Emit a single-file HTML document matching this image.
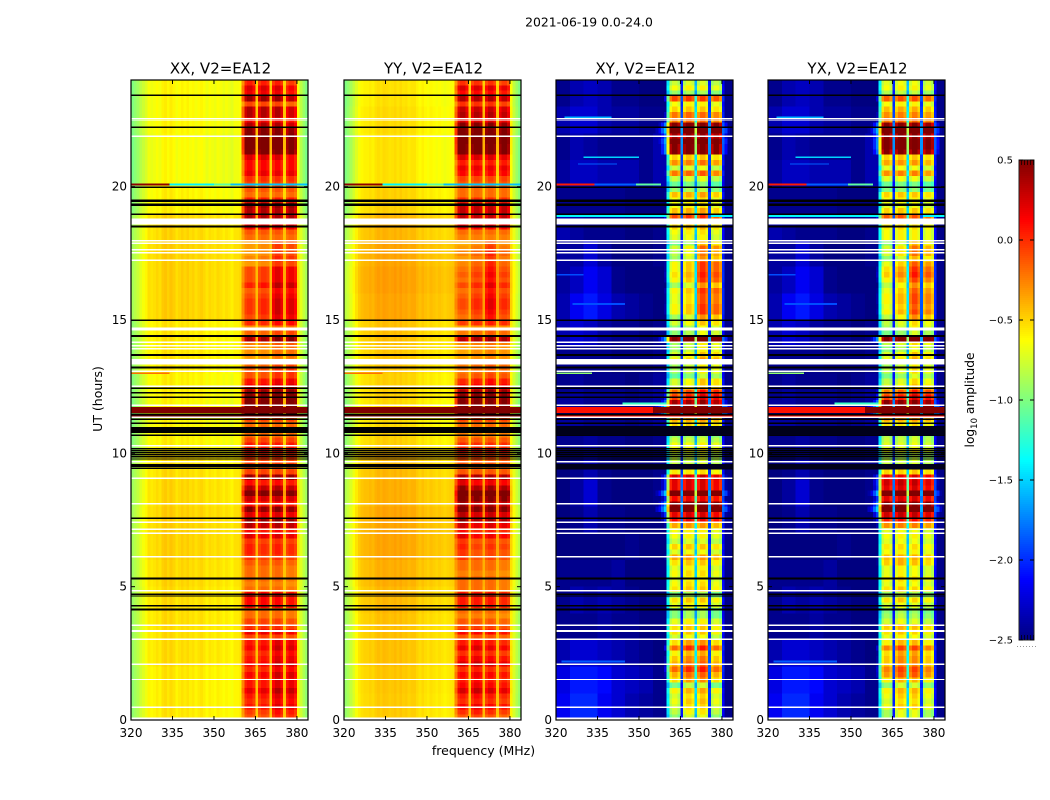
<!DOCTYPE html>
<html lang="en">
<head>
<meta charset="utf-8">
<title>2021-06-19 0.0-24.0</title>
<style>
html,body{margin:0;padding:0;background:#fff;width:1050px;height:800px;overflow:hidden}
svg{display:block}
text{font-family:"DejaVu Sans","Liberation Sans",sans-serif;fill:#000}
</style>
</head>
<body>
<svg id="chart" xmlns="http://www.w3.org/2000/svg" width="1050" height="800" viewBox="0 0 1050 800">
  <text x="589" y="26.5" font-size="12.4" text-anchor="middle">2021-06-19 0.0-24.0</text>
  <text transform="translate(102,399) rotate(-90)" font-size="12.5" text-anchor="middle">UT (hours)</text>
  <text x="483.5" y="755" font-size="12.5" text-anchor="middle">frequency (MHz)</text>
  <text transform="translate(974,400) rotate(-90)" font-size="12.2" text-anchor="middle">log<tspan font-size="8.5" dy="3">10</tspan><tspan dy="-3"> amplitude</tspan></text>
</svg>
<script>
/* ---------- tick labels ---------- */
const freqTicks = [320, 335, 350, 365, 380];
const hourTicks = [0, 5, 10, 15, 20];
const colorTicks = [0.5, 0, -0.5, -1, -1.5, -2, -2.5];

/* ---------- log10 amplitude of the RFI-band per 0.2 h time bin, top (24 h) to bottom (0 h) ---------- */
const bandXX = [
-.05,.1,.05,.25,-.15,.2,.2,.05,.2,.35,
.4,.45,.45,.4,.1,.05,.05,.1,-.05,-.1,
-.15,-.2,0,.3,.25,.25,-.1,.1,-.15,-.2,
-.2,-.2,-.2,-.15,-.2,0,0,0,.1,-.05,
0,.05,.05,.05,0,0,-.25,-.15,.3,-.2,
-.25,-.25,-.3,-.15,-.1,-.1,.05,.1,.35,.45,
.45,.5,.5,-.1,-.2,-.15,-.2,-.1,0,.1,
-.05,-.1,-.15,-.1,.3,0,.2,.4,.15,0,
.3,.1,.3,.2,0,.1,-.1,-.05,-.05,-.1,
-.15,-.2,-.2,-.2,-.25,-.2,.05,.05,.05,-.2,
-.2,-.1,-.05,.1,-.1,.05,.1,0,.05,.1,
0,.1,.05,.05,.15,.05,0,.05,-.05,-.1];
const bandYY = [
-.1,.1,0,.2,-.1,.15,.2,.1,.3,.4,
.45,.45,.4,.4,.1,0,.1,.05,-.1,-.15,
-.2,-.2,-.05,.2,.2,.2,-.1,.05,-.2,-.25,
-.25,-.2,-.15,-.2,-.15,-.1,-.05,-.1,0,-.1,
-.05,0,0,-.05,-.1,-.05,-.3,-.2,.25,-.25,
-.3,-.3,-.3,-.2,-.2,-.15,0,.05,.3,.4,
.4,.5,.5,-.1,-.2,-.2,-.25,-.15,-.05,.05,
-.1,-.15,-.2,-.15,.25,.05,.25,.45,.35,.2,
.35,.15,.25,.1,-.05,.05,-.15,-.1,-.15,-.15,
-.2,-.2,-.25,-.2,-.2,-.2,0,0,0,-.2,
-.25,-.15,-.1,.05,-.15,0,.1,-.05,.05,.15,
-.05,.05,0,.05,.15,0,-.05,.05,-.05,-.15];
const bandXY = [
-.8,-.7,-.9,-.3,-.7,-.6,-.4,-.4,.15,.35,
.05,.25,.15,.15,-.6,-.45,-.8,-.4,-.8,-1,
-.9,-.55,-.7,-.7,-.55,-.3,-.5,-.6,-.7,-.75,
-.8,-.6,-.65,-.7,-.5,-.5,-.45,-.5,-.7,-.5,
-.55,-.55,-.5,-.5,-.7,-.7,-.85,-.85,.25,-.8,
-.8,-.7,-.6,-.8,-.8,-.95,-.7,-.7,-.3,-.2,
.05,.5,.5,-.5,-.6,-.9,-.9,-.8,-.7,-.7,
-.8,-.8,-.8,-.65,-.05,-.1,-.1,.35,-.15,.2,
.4,-.1,-.15,-.5,-.7,-.7,-.8,-.6,-.75,-.5,
-.6,-.7,-.65,-.7,-.65,-.6,-.9,-.6,-.7,-.9,
-.9,-.7,-.6,-.6,-.75,-.55,-.3,-.6,-.5,-.45,
-.3,-.45,-.55,-.9,-.6,-.7,-.65,-.7,-.75,-.85];
const bandYX = [
-.75,-.7,-.85,-.35,-.7,-.55,-.45,-.4,.1,.3,
.1,.2,.2,.1,-.6,-.5,-.75,-.45,-.75,-1,
-.95,-.6,-.7,-.75,-.6,-.35,-.5,-.65,-.7,-.7,
-.75,-.6,-.6,-.75,-.55,-.45,-.4,-.5,-.65,-.55,
-.5,-.5,-.55,-.5,-.65,-.75,-.8,-.9,.2,-.75,
-.85,-.7,-.65,-.8,-.75,-.9,-.75,-.7,-.35,-.2,
.1,.5,.5,-.5,-.65,-.9,-.85,-.8,-.75,-.7,
-.85,-.8,-.75,-.6,-.1,-.05,-.1,.3,-.1,.15,
.4,-.05,-.2,-.45,-.75,-.7,-.75,-.65,-.7,-.55,
-.55,-.7,-.7,-.65,-.7,-.6,-.85,-.6,-.75,-.9,
-.85,-.75,-.55,-.6,-.7,-.6,-.35,-.55,-.5,-.5,
-.35,-.4,-.6,-.85,-.6,-.65,-.7,-.65,-.8,-.8];

/* ---------- per sub-band offsets, one row per 3 h from 21-24 h down to 0-3 h ---------- */
const subXX = [[.15,.15,.15,.05],[.1,.1,.1,.1],[-.05,0,.25,.2],[.05,.05,.15,.15],[.1,.1,.1,.1],[.15,.1,.15,.1],[.1,.1,.1,.05],[.05,.05,.2,.15]];
const subYY = [[.15,.15,.15,.1],[.1,.1,.1,.1],[-.05,.05,.25,.05],[.05,.1,.15,.1],[.1,.1,.1,.1],[.2,.1,.15,.1],[.1,.1,.1,.05],[.1,.15,.1,.05]];
const subXY = [[.15,.2,.2,.1],[.15,.2,.25,.1],[-.1,.05,.5,.35],[.05,.15,.35,.25],[.15,.15,.2,.1],[.15,.2,.2,.1],[.1,.2,.2,.05],[.05,.25,.3,.05]];
const subYX = [[.15,.2,.2,.1],[.15,.2,.2,.1],[-.1,.1,.45,.25],[.05,.15,.35,.2],[.15,.15,.2,.1],[.15,.2,.2,.1],[.1,.2,.15,.05],[.05,.25,.25,.05]];

/* ---------- co-polar background, per MHz channel (64) and per hour offset (23 h to 0 h) ---------- */
const bgColXX = [-.9,-.85,-.8,-.72,-.67,-.62,-.55,-.57,-.55,-.52,-.55,-.49,-.47,-.51,-.47,-.5,-.55,-.52,-.49,-.52,-.49,-.53,-.51,-.55,-.52,-.5,-.53,-.57,-.53,-.55,-.57,-.53,-.55,-.58,-.55,-.57,-.6,-.55,-.55,-.53,-.5,-.5,-.5,-.5,-.5,-.5,-.5,-.5,-.5,-.5,-.48,-.5,-.5,-.5,-.5,-.5,-.5,-.5,-.5,-.55,-.62,-.72,-.82,-.9];
const bgColYY = [-.9,-.85,-.78,-.7,-.62,-.55,-.51,-.49,-.49,-.47,-.49,-.45,-.43,-.45,-.42,-.43,-.45,-.44,-.42,-.45,-.42,-.45,-.44,-.47,-.45,-.45,-.49,-.52,-.49,-.52,-.54,-.51,-.53,-.55,-.53,-.55,-.57,-.55,-.54,-.53,-.5,-.5,-.5,-.5,-.5,-.5,-.5,-.5,-.5,-.5,-.48,-.5,-.5,-.5,-.5,-.5,-.5,-.5,-.5,-.55,-.62,-.72,-.82,-.9];
const hourOffsetXX = [-.1,-.1,-.12,-.12,-.08,0,.02,.02,.02,-.05,-.05,-.08,-.1,-.08,-.02,0,.02,.02,0,-.02,-.02,-.02,-.05,-.05];
const hourOffsetYY = [-.1,-.08,-.1,-.1,-.05,.03,.08,.1,.08,0,-.02,-.05,-.08,-.05,.02,.05,.08,.08,.05,.02,0,0,-.02,-.03];
const bandMixCo = [0,0,0,0,0,0,0,0,0,0,0,0,0,0,0,0,0,0,0,0,0,0,0,0,0,0,0,0,0,0,0,0,0,0,0,0,0,0,0,0,.45,.9,1,1,.85,.15,.85,1,1,.9,.15,.85,1,1,.85,.15,.85,1,1,.85,.1,0,0,0];

/* ---------- cross-polar background: 1 h rows (23 to 0) by 5 MHz columns (320-360) ---------- */
const crossBg = [
[-2.4,-2.3,-2.25,-2.3,-2.4,-2.4,-2.45,-2.45],
[-2.3,-2.2,-2.2,-2.3,-2.35,-2.35,-2.4,-2.4],
[-2.4,-2.3,-2.35,-2.4,-2.4,-2.4,-2.4,-2.3],
[-2.35,-2.25,-2.25,-2.3,-2.3,-2.3,-2.4,-2.3],
[-2.4,-2.4,-2.4,-2.4,-2.4,-2.45,-2.45,-2.45],
[-2.3,-2.35,-2.4,-2.4,-2.4,-2.45,-2.45,-2.4],
[-2.35,-2.35,-2.2,-2.35,-2.45,-2.45,-2.45,-2.4],
[-2.35,-2.25,-2.1,-2.2,-2.4,-2.45,-2.45,-2.45],
[-2.3,-2.1,-2,-2.15,-2.3,-2.35,-2.4,-2.45],
[-2.3,-2.2,-2.25,-2.35,-2.4,-2.4,-2.45,-2.4],
[-2.4,-2.4,-2.4,-2.4,-2.45,-2.45,-2.45,-2.4],
[-2.4,-2.35,-2.4,-2.4,-2.4,-2.45,-2.4,-2.35],
[-2.35,-2.35,-2.4,-2.4,-2.4,-2.45,-2.4,-2.35],
[-2.4,-2.4,-2.35,-2.4,-2.4,-2.45,-2.45,-2.4],
[-2.45,-2.4,-2.3,-2.4,-2.45,-2.45,-2.45,-2.4],
[-2.45,-2.35,-2.2,-2.4,-2.45,-2.45,-2.45,-2.4],
[-2.45,-2.4,-2.3,-2.4,-2.4,-2.45,-2.45,-2.45],
[-2.45,-2.45,-2.45,-2.45,-2.45,-2.4,-2.45,-2.45],
[-2.4,-2.4,-2.4,-2.4,-2.35,-2.45,-2.45,-2.45],
[-2.4,-2.3,-2.35,-2.3,-2.35,-2.4,-2.45,-2.45],
[-2.4,-2.4,-2.4,-2.35,-2.4,-2.4,-2.45,-2.45],
[-2.3,-2.2,-2.2,-2.25,-2.3,-2.35,-2.4,-2.45],
[-2.15,-2,-2,-2.05,-2.2,-2.25,-2.3,-2.4],
[-2.1,-1.95,-1.95,-2.1,-2.2,-2.3,-2.35,-2.4]];
const bandMixCross = [0,0,0,0,0,0,0,0,0,0,0,0,0,0,0,0,0,0,0,0,0,0,0,0,0,0,0,0,0,0,0,0,0,0,0,0,0,0,0,0,.6,.93,1,1,.93,.25,.93,1,1,.95,.5,.93,1,1,.93,.25,.93,1,1,.93,.2,0,0,0];
const glowCross = [-9,-9,-9,-9,-9,-9,-9,-9,-9,-9,-9,-9,-9,-9,-9,-9,-9,-9,-9,-9,-9,-9,-9,-9,-9,-9,-9,-9,-9,-9,-9,-9,-9,-9,-3.1,-2.9,-2.7,-2.5,-2.2,-1.9,-9,-9,-9,-9,-9,-9,-9,-9,-9,-9,-9,-9,-9,-9,-9,-9,-9,-9,-9,-9,-9,-2.3,-2.7,-3];

/* ---------- narrow features: [hour, firstMHz, lastMHz, log10 amplitude, duration h] ---------- */
const streaksCo = [[20.08,320,334,.45,.07],[20.08,334,350,-1.4,.07],[20.08,350,356,-1.1,.07],[20.08,356,384,-1.55,.07],[13,320,334,-.2,.05],[11.62,320,384,.5,.22],[11.42,320,384,.5,.12]];
const streaksCross = [[20.08,320,334,.05,.07],[20.08,334,349,-1.85,.07],[20.08,349,358,-1.1,.07],[13,320,333,-.95,.05],[11.62,320,355,.08,.22],[11.62,355,384,.5,.22],[11.4,320,384,.1,.1],[11.85,344,360,-1.2,.1],[22.6,323,340,-1.6,.05],[21.1,330,350,-1.5,.05],[20.85,328,342,-1.85,.05],[18.93,320,360,-1.4,.14],[18.93,376,384,-1.4,.14],[16.7,320,330,-1.9,.05],[2.2,322,345,-1.85,.07],[15.6,326,345,-1.9,.07]];

/* ---------- flagged integrations: [hour, duration h] ---------- */
const flagsBlack = [[23.43,.05],[22.23,.05],[19.98,.05],[19.47,.08],[19.32,.08],[18.96,.05],[18.5,.08],[14.99,.05],[14.4,.08],[13.69,.08],[13.22,.08],[12.44,.05],[12.27,.05],[12.1,.05],[11.46,.07],[11.28,.05],[11.13,.05],[10.87,.23],[10.68,.05],[10.17,.05],[10.1,.05],[10.02,.05],[9.95,.05],[9.87,.05],[9.79,.05],[9.57,.05],[9.51,.05],[9.44,.05],[7.56,.05],[5.3,.08],[4.71,.05],[4.65,.05],[4.29,.05],[4.15,.07]];
const flagsWhite = [[22.55,.04],[22.5,.04],[21.89,.05],[18.73,.17],[18.61,.05],[17.97,.05],[17.88,.05],[17.63,.05],[17.52,.05],[17.24,.05],[14.69,.05],[14.63,.05],[14.16,.05],[14.04,.05],[13.92,.05],[13.45,.17],[13.35,.05],[13.08,.05],[12.51,.05],[11.8,.05],[11.35,.05],[10.29,.05],[9.68,.05],[9.06,.05],[8.11,.05],[7.41,.05],[7.15,.05],[7,.05],[6.12,.07],[4.85,.05],[3.55,.05],[3.34,.08],[3.03,.05],[2.09,.05],[1.52,.05],[.48,.05],[.06,.07]];
const flagsBlackCross = [[10.85,.35],[9.5,.2]];

/* ---------- panels ---------- */
const panelTitles = ['XX, V2=EA12', 'YY, V2=EA12', 'XY, V2=EA12', 'YX, V2=EA12'];
const panelLeft = [131, 344, 556, 768];
const panelBands = [bandXX, bandYY, bandXY, bandYX];
const panelSubs = [subXX, subYY, subXY, subYX];
const panelBgCols = [bgColXX, bgColYY, null, null];
const panelHourOffsets = [hourOffsetXX, hourOffsetYY, null, null];

const plotTop = 80, plotBottom = 720, plotWidth = 177;
const freqMin = 320, freqMax = 384, hourMax = 24;
const colorMin = -2.5, colorMax = 0.5, barLeft = 1019, barRight = 1034, barTop = 160, barBottom = 640;
const NS = 'http://www.w3.org/2000/svg';
const svg = document.getElementById('chart');

function xScale(left, mhz) { return left + (mhz - freqMin) * plotWidth / (freqMax - freqMin); }
function yScale(hour) { return plotBottom - hour * (plotBottom - plotTop) / hourMax; }
function colorY(v) { return barBottom - (v - colorMin) * (barBottom - barTop) / (colorMax - colorMin); }
function jet(v) {
  const f = Math.max(0, Math.min(1, (v - colorMin) / (colorMax - colorMin)));
  const ch = (a) => Math.round(255 * Math.max(0, Math.min(1, 1.5 - Math.abs(4 * f - a))));
  return 'rgb(' + ch(3) + ',' + ch(2) + ',' + ch(1) + ')';
}
function make(tag, parent) {
  const el = document.createElementNS(NS, tag);
  parent.appendChild(el);
  return el;
}
function rectAttrs(el, x, y, w, h, fill) {
  el.setAttribute('x', x);
  el.setAttribute('y', y);
  el.setAttribute('width', w);
  el.setAttribute('height', h);
  el.setAttribute('fill', fill);
  el.setAttribute('shape-rendering', 'crispEdges');
}
function cellValue(p, ch, row) {
  const level = panelBands[p][row];
  const hourBin = Math.min(23, Math.floor(row * 0.2));
  const subRow = panelSubs[p][Math.min(7, Math.floor(row * 0.2 / 3))];
  const sb = Math.max(0, Math.min(3, Math.floor((ch - 40.5) / 5)));
  if (p < 2) {
    const bandLevel = level * 1.25 + subRow[sb] - 0.03;
    const bg = panelBgCols[p][ch] + panelHourOffsets[p][hourBin];
    return bg + bandMixCo[ch] * (bandLevel - bg);
  }
  const bandLevel = level * 1.4 + subRow[sb] + 0.2;
  let bg = ch < 40 ? crossBg[hourBin][Math.floor(ch / 5)] - 0.06 : -2.47;
  bg = Math.max(bg, level + glowCross[ch]);
  return bg + bandMixCross[ch] * (bandLevel - bg);
}

panelLeft.forEach(function (left, p) {
  const group = make('g', svg);
  
  

  /* heatmap cells */
  const rows = panelBands[p].length;
  const cells = make('g', group);
  
  
  for (let row = 0; row < rows; row++) {
    const yTop = yScale(hourMax - row * 0.2);
    const yBot = yScale(hourMax - (row + 1) * 0.2);
    for (let ch = 0; ch < 64; ch++) {
      const cell = make('rect', cells);
      
      
      const x0 = xScale(left, freqMin + ch);
      const x1 = xScale(left, freqMin + ch + 1);
      rectAttrs(cell, x0.toFixed(2), yTop.toFixed(2), (x1 - x0 + 0.3).toFixed(2), (yBot - yTop + 0.3).toFixed(2), jet(cellValue(p, ch, row)));
    }
  }

  /* narrow hot rows */
  (p < 2 ? streaksCo : streaksCross).forEach(function (s) {
    const r = make('rect', group);
    
    
    rectAttrs(r, xScale(left, s[1]), yScale(s[0] + s[4] / 2), xScale(left, s[2]) - xScale(left, s[1]), yScale(s[0] - s[4] / 2) - yScale(s[0] + s[4] / 2), jet(s[3]));
  });

  /* flagged integrations */
  flagsWhite.forEach(function (f) {
    const r = make('rect', group);
    
    
    rectAttrs(r, left, yScale(f[0] + f[1] / 2), plotWidth, Math.max(1, yScale(f[0] - f[1] / 2) - yScale(f[0] + f[1] / 2)), '#fff');
  });
  flagsBlack.forEach(function (f) {
    const r = make('rect', group);
    
    
    rectAttrs(r, left, yScale(f[0] + f[1] / 2), plotWidth, Math.max(1, yScale(f[0] - f[1] / 2) - yScale(f[0] + f[1] / 2)), '#000');
  });
  if (p >= 2) {
    flagsBlackCross.forEach(function (f) {
      const r = make('rect', group);
      
      
      rectAttrs(r, left, yScale(f[0] + f[1] / 2), plotWidth, yScale(f[0] - f[1] / 2) - yScale(f[0] + f[1] / 2), '#00001a');
    });
  }

  /* frame */
  const frame = make('rect', group);
  
  
  frame.setAttribute('x', left);
  frame.setAttribute('y', plotTop);
  frame.setAttribute('width', plotWidth);
  frame.setAttribute('height', plotBottom - plotTop);
  frame.setAttribute('fill', 'none');
  frame.setAttribute('stroke', '#000');
  frame.setAttribute('stroke-width', '1.2');

  /* x ticks */
  freqTicks.forEach(function (t) {
    const x = xScale(left, t);
    [[plotBottom, plotBottom - 4], [plotTop, plotTop + 4]].forEach(function (e) {
      const line = make('line', group);
      
      
      line.setAttribute('x1', x);
      line.setAttribute('x2', x);
      line.setAttribute('y1', e[0]);
      line.setAttribute('y2', e[1]);
      line.setAttribute('stroke', '#000');
    });
    const label = make('text', group);
    
    
    label.setAttribute('x', x);
    label.setAttribute('y', plotBottom + 17);
    label.setAttribute('font-size', '12');
    label.setAttribute('text-anchor', 'middle');
    label.textContent = t;
  });

  /* y ticks */
  hourTicks.forEach(function (t) {
    const y = yScale(t);
    [[left, left + 4], [left + plotWidth, left + plotWidth - 4]].forEach(function (e) {
      const line = make('line', group);
      
      
      line.setAttribute('x1', e[0]);
      line.setAttribute('x2', e[1]);
      line.setAttribute('y1', y);
      line.setAttribute('y2', y);
      line.setAttribute('stroke', '#000');
    });
    const label = make('text', group);
    
    
    label.setAttribute('x', left - 4);
    label.setAttribute('y', y + 4);
    label.setAttribute('font-size', '12');
    label.setAttribute('text-anchor', 'end');
    label.textContent = t;
  });

  const title = make('text', group);
  
  
  title.setAttribute('x', left + plotWidth / 2 + 1);
  title.setAttribute('y', 73.5);
  title.setAttribute('font-size', '15');
  title.setAttribute('text-anchor', 'middle');
  title.textContent = panelTitles[p];
});

/* ---------- colorbar ---------- */
const barGroup = make('g', svg);


for (let y = barTop; y < barBottom; y += 2) {
  const r = make('rect', barGroup);
  
  
  const v = colorMax - (y + 1 - barTop) * (colorMax - colorMin) / (barBottom - barTop);
  rectAttrs(r, barLeft, y, barRight - barLeft, 2.2, jet(v));
}
const barFrame = make('rect', barGroup);


barFrame.setAttribute('x', barLeft);
barFrame.setAttribute('y', barTop);
barFrame.setAttribute('width', barRight - barLeft);
barFrame.setAttribute('height', barBottom - barTop);
barFrame.setAttribute('fill', 'none');
barFrame.setAttribute('stroke', '#222');
colorTicks.forEach(function (t) {
  const y = colorY(t);
  [[barLeft, barLeft + 4], [barRight, barRight - 4]].forEach(function (e) {
    const line = make('line', barGroup);
    
    
    line.setAttribute('x1', e[0]);
    line.setAttribute('x2', e[1]);
    line.setAttribute('y1', y);
    line.setAttribute('y2', y);
    line.setAttribute('stroke', '#000');
  });
  const label = make('text', barGroup);
  
  
  label.setAttribute('x', barLeft - 6);
  label.setAttribute('y', y + 3.5);
  label.setAttribute('font-size', '10');
  label.setAttribute('text-anchor', 'end');
  label.textContent = t.toFixed(1).replace('-', '\u2212');
});
for (let x = barLeft + 2; x < barRight; x += 3) {
  [[barTop, barTop + 5], [barBottom, barBottom - 5]].forEach(function (e) {
    const line = make('line', barGroup);
    
    
    line.setAttribute('x1', x + 0.5);
    line.setAttribute('x2', x + 0.5);
    line.setAttribute('y1', e[0]);
    line.setAttribute('y2', e[1]);
    line.setAttribute('stroke', '#000');
    line.setAttribute('stroke-width', '0.7');
  });
}
for (let x = barLeft - 2; x < barRight + 2; x += 3) {
  const dot = make('rect', barGroup);
  
  
  rectAttrs(dot, x, 646, 1, 1, '#999');
}
</script>
</body>
</html>
